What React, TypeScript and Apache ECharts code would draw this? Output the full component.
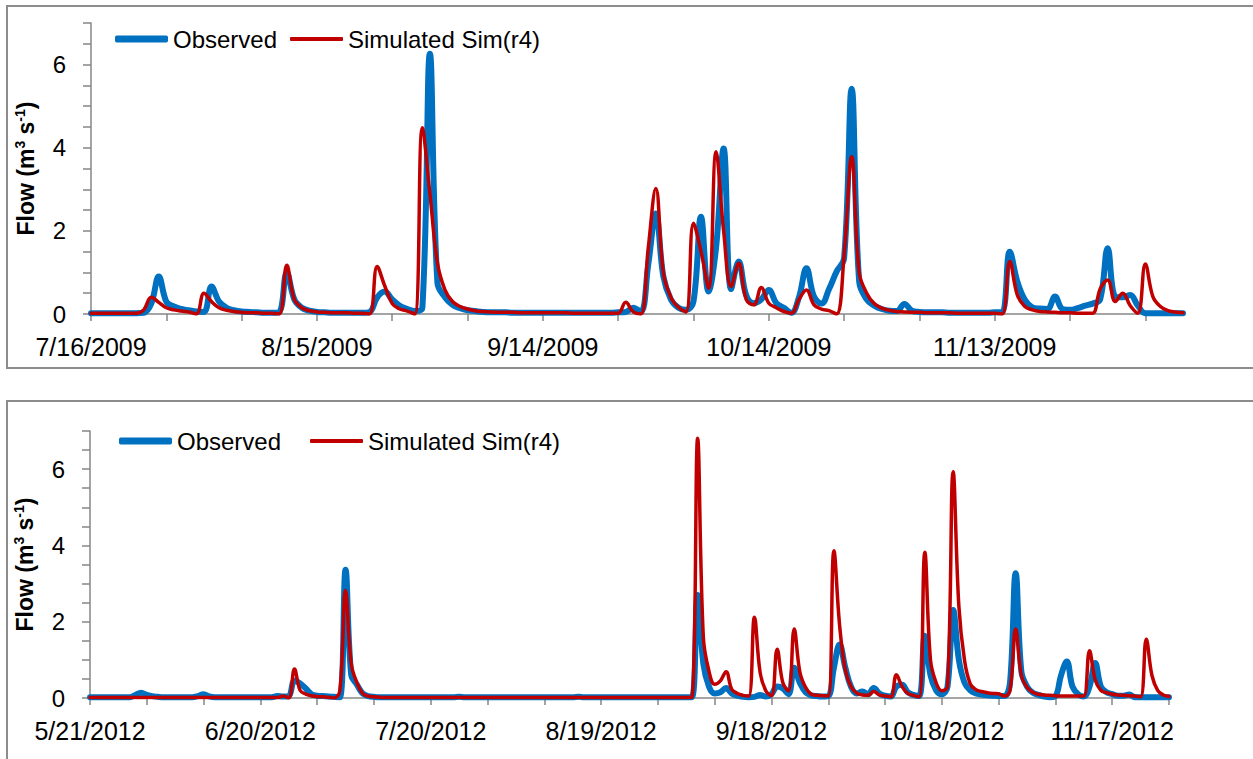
import React, { useEffect, useRef } from "react";
import * as echarts from "echarts";

// ---- Data: daily flow (m3/s), panel 1 starts 7/16/2009, panel 2 starts 5/21/2012 ----
const obs2009 = [
  0.02, 0.02, 0.02, 0.02, 0.02, 0.02, 0.02, 0.03, 0.25, 0.9,
  0.3, 0.18, 0.12, 0.09, 0.06, 0.05, 0.66, 0.3, 0.15, 0.09,
  0.06, 0.05, 0.04, 0.03, 0.03, 0.05, 1.0, 0.35, 0.15, 0.08,
  0.05, 0.04, 0.03, 0.03, 0.03, 0.03, 0.03, 0.05, 0.4, 0.54,
  0.35, 0.2, 0.12, 0.07, 0.15, 6.26, 0.75, 0.4, 0.22, 0.14,
  0.09, 0.07, 0.05, 0.04, 0.04, 0.04, 0.03, 0.03, 0.03, 0.03,
  0.03, 0.03, 0.03, 0.03, 0.03, 0.03, 0.03, 0.03, 0.03, 0.03,
  0.04, 0.05, 0.15, 0.05, 1.2, 2.42, 0.9, 0.35, 0.15, 0.1,
  0.3, 2.34, 0.54, 1.6, 3.98, 0.6, 1.26, 0.45, 0.26, 0.35,
  0.58, 0.26, 0.15, 0.03, 0.4, 1.1, 0.42, 0.25, 0.6, 1.02,
  1.34, 5.42, 0.78, 0.35, 0.2, 0.12, 0.08, 0.07, 0.24, 0.08,
  0.05, 0.04, 0.04, 0.04, 0.03, 0.03, 0.03, 0.03, 0.03, 0.03,
  0.04, 0.05, 1.5, 0.78, 0.34, 0.16, 0.13, 0.12, 0.42, 0.12,
  0.1, 0.14, 0.2, 0.25, 0.35, 1.58, 0.42, 0.4, 0.46, 0.2,
  0.02, 0.02, 0.02, 0.02, 0.02, 0.02,
];
const sim2009 = [
  0.02, 0.02, 0.02, 0.02, 0.02, 0.02, 0.02, 0.1, 0.4, 0.28,
  0.15, 0.1, 0.07, 0.05, 0.0, 0.5, 0.3, 0.15, 0.09, 0.06,
  0.04, 0.03, 0.03, 0.02, 0.02, 0.0, 1.17, 0.35, 0.15, 0.08,
  0.05, 0.04, 0.03, 0.03, 0.03, 0.02, 0.02, 0.0, 1.14, 0.68,
  0.25, 0.12, 0.07, 0.0, 4.48, 2.9, 1.23, 0.58, 0.3, 0.18,
  0.12, 0.08, 0.06, 0.05, 0.04, 0.04, 0.04, 0.03, 0.03, 0.03,
  0.03, 0.03, 0.03, 0.03, 0.02, 0.02, 0.02, 0.02, 0.02, 0.02,
  0.02, 0.28, 0.05, 0.0, 1.6, 3.02, 1.0, 0.4, 0.16, 0.05,
  2.18, 1.5, 0.62, 3.9, 2.0, 0.66, 1.22, 0.35, 0.22, 0.64,
  0.26, 0.15, 0.06, 0.02, 0.35, 0.58, 0.22, 0.12, 0.08, 0.0,
  1.42, 3.78, 1.0, 0.5, 0.25, 0.14, 0.09, 0.06, 0.05, 0.04,
  0.04, 0.03, 0.03, 0.03, 0.03, 0.02, 0.02, 0.02, 0.02, 0.02,
  0.02, 0.0, 1.26, 0.46, 0.18, 0.1, 0.06, 0.05, 0.04, 0.03,
  0.03, 0.02, 0.02, 0.02, 0.6, 0.82, 0.3, 0.5, 0.2, 0.02,
  1.2, 0.42, 0.18, 0.08, 0.05, 0.03,
];
const obs2012 = [
  0.02, 0.02, 0.02, 0.02, 0.02, 0.02, 0.02, 0.02, 0.08, 0.14,
  0.08, 0.05, 0.03, 0.02, 0.02, 0.02, 0.02, 0.02, 0.02, 0.05,
  0.1, 0.04, 0.02, 0.02, 0.02, 0.02, 0.02, 0.02, 0.02, 0.02,
  0.02, 0.02, 0.02, 0.05, 0.04, 0.05, 0.45, 0.38, 0.25, 0.1,
  0.06, 0.05, 0.04, 0.03, 0.02, 3.36, 0.6, 0.35, 0.12, 0.05,
  0.03, 0.02, 0.02, 0.02, 0.02, 0.02, 0.02, 0.02, 0.02, 0.02,
  0.02, 0.02, 0.02, 0.02, 0.02, 0.03, 0.02, 0.02, 0.02, 0.02,
  0.02, 0.02, 0.02, 0.02, 0.02, 0.02, 0.02, 0.02, 0.02, 0.02,
  0.02, 0.02, 0.02, 0.02, 0.02, 0.02, 0.03, 0.02, 0.02, 0.02,
  0.02, 0.02, 0.02, 0.02, 0.02, 0.02, 0.02, 0.02, 0.02, 0.02,
  0.02, 0.02, 0.02, 0.02, 0.02, 0.02, 0.02, 2.7, 0.9, 0.3,
  0.12, 0.15, 0.26, 0.12, 0.06, 0.03, 0.02, 0.03, 0.08, 0.04,
  0.1, 0.3, 0.25, 0.1, 0.79, 0.4, 0.15, 0.07, 0.05, 0.04,
  0.05, 0.8, 1.4, 0.8, 0.3, 0.12, 0.17, 0.1, 0.26, 0.12,
  0.06, 0.04, 0.3, 0.35, 0.15, 0.08, 0.05, 1.63, 0.6, 0.2,
  0.1, 0.3, 2.31, 1.0, 0.4, 0.2, 0.12, 0.09, 0.07, 0.06,
  0.05, 0.05, 0.4, 3.27, 0.7, 0.3, 0.14, 0.08, 0.04, 0.02,
  0.05, 0.6, 0.96, 0.3, 0.1, 0.04, 0.3, 0.92, 0.3, 0.15,
  0.1, 0.06, 0.06, 0.09, 0.02, 0.02, 0.02, 0.02, 0.02, 0.02,
  0.02,
];
const sim2012 = [
  0.01, 0.01, 0.01, 0.01, 0.01, 0.01, 0.01, 0.01, 0.01, 0.01,
  0.01, 0.01, 0.01, 0.01, 0.01, 0.01, 0.01, 0.01, 0.01, 0.01,
  0.01, 0.01, 0.01, 0.01, 0.01, 0.01, 0.01, 0.01, 0.01, 0.01,
  0.01, 0.01, 0.01, 0.01, 0.05, 0.0, 0.76, 0.2, 0.1, 0.06,
  0.04, 0.03, 0.02, 0.0, 0.2, 2.82, 0.9, 0.4, 0.12, 0.05,
  0.03, 0.02, 0.01, 0.01, 0.01, 0.01, 0.01, 0.01, 0.01, 0.01,
  0.01, 0.01, 0.01, 0.01, 0.01, 0.01, 0.01, 0.01, 0.01, 0.01,
  0.01, 0.01, 0.01, 0.01, 0.01, 0.01, 0.01, 0.01, 0.01, 0.01,
  0.01, 0.01, 0.01, 0.01, 0.01, 0.01, 0.01, 0.01, 0.01, 0.01,
  0.01, 0.01, 0.01, 0.01, 0.01, 0.01, 0.01, 0.01, 0.01, 0.01,
  0.01, 0.01, 0.01, 0.01, 0.01, 0.01, 0.02, 6.81, 1.6, 0.7,
  0.36, 0.45, 0.69, 0.23, 0.12, 0.07, 0.05, 2.12, 0.67, 0.19,
  0.06, 1.28, 0.4, 0.19, 1.81, 0.68, 0.28, 0.1, 0.07, 0.06,
  0.05, 3.86, 1.9, 0.74, 0.3, 0.13, 0.08, 0.07, 0.17, 0.08,
  0.05, 0.03, 0.61, 0.3, 0.12, 0.07, 0.03, 3.82, 1.0, 0.4,
  0.19, 0.3, 5.93, 2.4, 0.98, 0.37, 0.22, 0.17, 0.14, 0.12,
  0.11, 0.05, 0.2, 1.81, 0.59, 0.28, 0.15, 0.1, 0.08, 0.07,
  0.06, 0.05, 0.05, 0.05, 0.05, 0.05, 1.24, 0.48, 0.2, 0.14,
  0.1, 0.08, 0.07, 0.06, 0.05, 0.03, 1.54, 0.59, 0.2, 0.08,
  0.04,
];

const dateLabels2009 = ["7/16/2009", "8/15/2009", "9/14/2009", "10/14/2009", "11/13/2009"];
const dateLabels2012 = ["5/21/2012", "6/20/2012", "7/20/2012", "8/19/2012", "9/18/2012", "10/18/2012", "11/17/2012"];
const yTickLabels = [0, 2, 4, 6];
const seriesNames = ["Observed", "Simulated Sim(r4)"];

const FONT = "'Liberation Sans', Arial, sans-serif";
const AXIS_GRAY = "#868686";
const BLUE = "#0070C0";
const RED = "#C00000";

function range(start: number, end: number, step: number) {
  const out: number[] = [];
  for (let v = start; v <= end + 1e-9; v += step) out.push(Math.round(v * 100) / 100);
  return out;
}

function makeX(gridIndex: number, n: number, labels: string[]) {
  return {
    type: "value",
    gridIndex,
    min: 0,
    max: n - 1,
    axisLine: { show: true, onZero: false, lineStyle: { color: AXIS_GRAY, width: 1.5 } },
    axisTick: { show: true, length: 7, lineStyle: { color: AXIS_GRAY, width: 1.5 }, customValues: range(0, n - 1, 10) },
    axisLabel: {
      customValues: range(0, (labels.length - 1) * 30, 30),
      formatter: (v: number) => labels[Math.round(v / 30)] ?? "",
      fontSize: 25,
      color: "#000",
      fontFamily: FONT,
      margin: 20,
    },
    splitLine: { show: false },
  };
}

function makeY(gridIndex: number) {
  return {
    type: "value",
    gridIndex,
    min: 0,
    max: 7,
    name: "{a|Flow (m}{s|3}{a| s}{s|-1}{a|)}",
    nameLocation: "middle",
    nameRotate: 90,
    nameGap: 52,
    nameTextStyle: {
      rich: {
        a: { fontSize: 23, fontWeight: "bold", fontFamily: FONT, color: "#000", lineHeight: 26 },
        s: { fontSize: 14, fontWeight: "bold", fontFamily: FONT, color: "#000", verticalAlign: "top", lineHeight: 26 },
      },
    },
    axisLine: { show: true, lineStyle: { color: AXIS_GRAY, width: 1.5 } },
    axisTick: { show: true, length: 8, lineStyle: { color: AXIS_GRAY, width: 1.5 }, customValues: range(0, 7, 0.5) },
    axisLabel: {
      customValues: yTickLabels,
      formatter: (v: number) => String(v),
      fontSize: 24,
      color: "#000",
      fontFamily: FONT,
      margin: 25,
    },
    splitLine: { show: false },
  };
}

function makeSeries(name: string, values: number[], idx: number, color: string, width: number, z: number) {
  return {
    name,
    type: "line",
    xAxisIndex: idx,
    yAxisIndex: idx,
    data: values.map((v, i) => [i, v]),
    symbol: "none",
    smooth: 0.4,
    z,
    lineStyle: { color, width, cap: "round", join: "round" },
    itemStyle: { color },
  };
}

function makeLegend(name: string, color: string, thickness: number, left: number, top: number) {
  return {
    data: [name],
    left,
    top,
    icon: "roundRect",
    itemWidth: 53,
    itemHeight: thickness,
    itemStyle: { color },
    padding: 0,
    textStyle: { fontSize: 24, color: "#000", fontFamily: FONT },
    selectedMode: false,
  };
}

export default function App() {
  const ref = useRef<HTMLDivElement>(null);
  useEffect(() => {
    if (!ref.current) return;
    const chart = echarts.init(ref.current, null, { renderer: "svg" });
    chart.setOption({
      animation: false,
      backgroundColor: "#fff",
      grid: [
        { left: 91, top: 23, width: 1092, height: 291, containLabel: false },
        { left: 90, top: 431, width: 1079, height: 267, containLabel: false },
      ],
      xAxis: [makeX(0, obs2009.length, dateLabels2009), makeX(1, obs2012.length, dateLabels2012)],
      yAxis: [makeY(0), makeY(1)],
      legend: [
        makeLegend(seriesNames[0], BLUE, 7, 115, 27),
        makeLegend(seriesNames[1], RED, 4, 290, 27),
        makeLegend(seriesNames[0], BLUE, 7, 119, 429),
        makeLegend(seriesNames[1], RED, 4, 310, 429),
      ],
      graphic: [
        { type: "rect", shape: { x: 7, y: 6, width: 1270, height: 362 }, style: { fill: "none", stroke: "#8c8c8c", lineWidth: 2 }, silent: true },
        { type: "rect", shape: { x: 7, y: 401, width: 1270, height: 420 }, style: { fill: "none", stroke: "#8c8c8c", lineWidth: 2 }, silent: true },
      ],
      series: [
        makeSeries(seriesNames[0], obs2009, 0, BLUE, 6, 2),
        makeSeries(seriesNames[1], sim2009, 0, RED, 3.5, 3),
        makeSeries(seriesNames[0], obs2012, 1, BLUE, 6, 2),
        makeSeries(seriesNames[1], sim2012, 1, RED, 3.5, 3),
      ],
    });
    return () => chart.dispose();
  }, []);
  return (
    <div
      ref={ref}
      style={{ position: "absolute", left: 0, top: 0, width: 1253, height: 759, background: "#fff" }}
    />
  );
}
